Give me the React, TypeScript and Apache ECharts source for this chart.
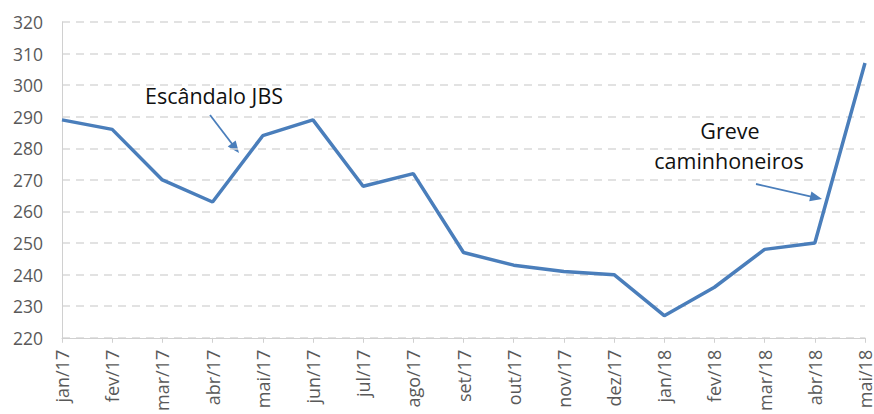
import React, { useEffect, useRef } from "react";
import * as echarts from "echarts";

const categories = [
  "jan/17", "fev/17", "mar/17", "abr/17", "mai/17", "jun/17", "jul/17", "ago/17",
  "set/17", "out/17", "nov/17", "dez/17", "jan/18", "fev/18", "mar/18", "abr/18", "mai/18",
];
const values = [289, 286, 270, 263, 284, 289, 268, 272, 247, 243, 241, 240, 227, 236, 248, 250, 307];
const yMin = 220;
const yMax = 320;
const yStep = 10;
const note1 = "Escândalo JBS";
const note2 = ["Greve", "caminhoneiros"];

const FONT = "'Open Sans', 'DejaVu Sans', sans-serif";

function arrow(x1: number, y1: number, x2: number, y2: number, color: string) {
  const dx = x2 - x1, dy = y2 - y1;
  const len = Math.hypot(dx, dy);
  const ux = dx / len, uy = dy / len;
  const head = 12, half = 5;
  const bx = x2 - ux * head, by = y2 - uy * head;
  const px = -uy * half, py = ux * half;
  return [
    {
      type: "line",
      shape: { x1, y1, x2: bx + ux * 2, y2: by + uy * 2 },
      style: { stroke: color, lineWidth: 1.8 },
    },
    {
      type: "polygon",
      shape: { points: [[x2, y2], [bx + px, by + py], [bx - px, by - py]] },
      style: { fill: color },
    },
  ];
}

export default function App() {
  const ref = useRef<HTMLDivElement>(null);
  useEffect(() => {
    document.body.style.margin = "0";
    if (!ref.current) return;
    const chart = echarts.init(ref.current, null, { renderer: "svg" });
    const color = "#4a7ebb";
    chart.setOption({
      animation: false,
      backgroundColor: "#ffffff",
      grid: { left: 62, right: 8, top: 22, bottom: 75 },
      xAxis: {
        type: "category",
        data: categories,
        boundaryGap: false,
        axisLine: { show: true, lineStyle: { color: "#d0d0d0", width: 1 } },
        axisTick: { show: true, length: 5, lineStyle: { color: "#d0d0d0" } },
        axisLabel: {
          rotate: 90,
          margin: 12,
          color: "#595959",
          fontSize: 18,
          fontFamily: FONT,
          interval: 0,
        },
        splitLine: { show: false },
      },
      yAxis: {
        type: "value",
        min: yMin,
        max: yMax,
        interval: yStep,
        axisLine: { show: true, lineStyle: { color: "#d0d0d0", width: 1 } },
        axisTick: { show: false },
        axisLabel: { color: "#595959", fontSize: 17.5, fontFamily: FONT, margin: 19 },
        splitLine: { show: true, lineStyle: { color: "#d9d9d9", type: [8, 6], width: 1.5 } },
      },
      series: [
        {
          type: "line",
          data: values,
          symbol: "none",
          lineStyle: { color, width: 3.5 },
        },
      ],
      graphic: [
        {
          type: "text",
          x: 214,
          y: 95,
          style: {
            text: note1,
            fontSize: 21.5,
            fontFamily: FONT,
            fill: "#111111",
            align: "center",
            verticalAlign: "middle",
          },
        },
        {
          type: "text",
          x: 730,
          y: 130,
          style: {
            text: note2[0],
            fontSize: 21.5,
            fontFamily: FONT,
            fill: "#111111",
            align: "center",
            verticalAlign: "middle",
          },
        },
        {
          type: "text",
          x: 729,
          y: 160,
          style: {
            text: note2[1],
            fontSize: 21.5,
            fontFamily: FONT,
            fill: "#111111",
            align: "center",
            verticalAlign: "middle",
          },
        },
        ...arrow(210, 115, 239, 153, color),
        ...arrow(756, 184, 822, 199, color),
      ],
    });
    return () => chart.dispose();
  }, []);
  return <div ref={ref} style={{ width: 874, height: 414 }} />;
}
